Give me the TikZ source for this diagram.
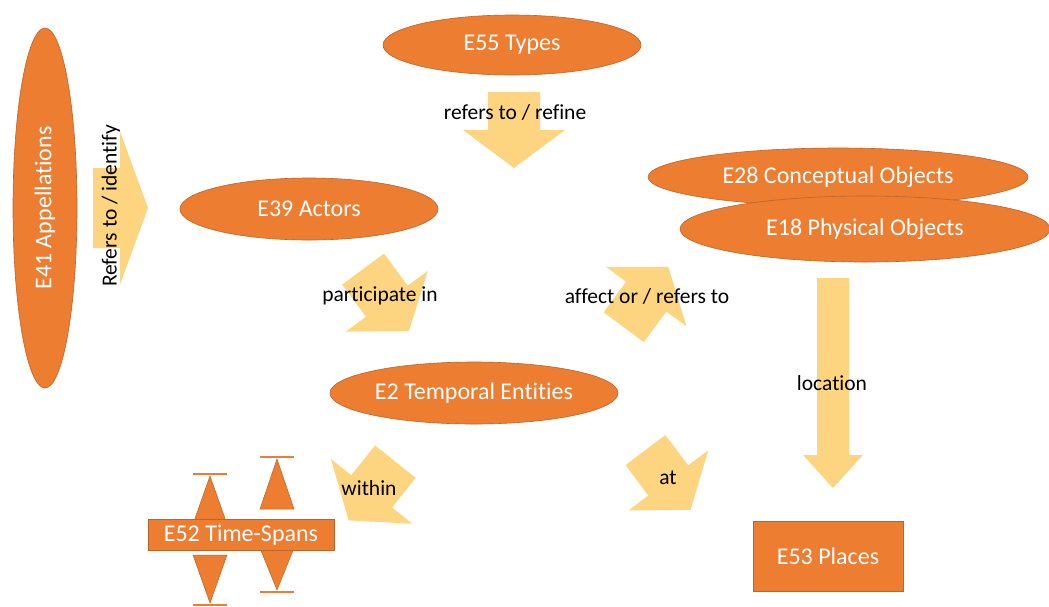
\documentclass[tikz,border=0pt]{standalone}
\usepackage{fontspec}
\setmainfont{Carlito}[Ligatures=NoCommon]
\usetikzlibrary{shapes.geometric}
\definecolor{eorange}{RGB}{237,125,49}
\definecolor{eborder}{RGB}{190,100,40}
\definecolor{arrfill}{RGB}{253,212,128}
\tikzset{
  ent/.style={ellipse, fill=eorange, draw=eborder, line width=0.6pt, text=white, inner sep=0pt,
    font=\fontsize{24}{28}\selectfont},
  entbox/.style={rectangle, fill=eorange, draw=eborder, line width=0.6pt, text=white, inner sep=0pt,
    font=\fontsize{24}{28}\selectfont},
  lbl/.style={text=black, inner sep=0pt, font=\fontsize{21.5}{26}\selectfont},
  tri/.style={fill=eorange, draw=eborder, line width=0.5pt},
  bar/.style={draw=eorange, line width=2pt},
  pics/barrow/.style n args={4}{code={
    \fill[arrfill] (-#1/2,-#2/2) -- (#1/2-#4,-#2/2) -- (#1/2-#4,-#3/2) -- (#1/2,0)
      -- (#1/2-#4,#3/2) -- (#1/2-#4,#2/2) -- (-#1/2,#2/2) -- cycle;
  }}
}
\begin{document}
\begin{tikzpicture}[x=1pt,y=-1pt]
\useasboundingbox[fill=white] (0,0) rectangle (1049,606);

% block arrows
\pic[rotate=0] at (120.5,208) {barrow={55}{80}{153}{28}};
\pic[rotate=-90] at (514,130) {barrow={76}{52}{102}{38}};
\pic[rotate=-90] at (833,383) {barrow={210}{32}{60}{33}};
\pic[rotate=-53.5] at (386,300) {barrow={77}{52}{102}{37}};
\pic[rotate=53.5] at (646,297) {barrow={75}{50}{100}{37}};
\pic[rotate=-128.5] at (372,491) {barrow={75}{52}{104}{37}};
\pic[rotate=-53] at (668,480) {barrow={75}{50}{100}{37}};

% time-span triangles and bars
\draw[tri] (210,476) -- (227,524) -- (193,524) -- cycle;
\draw[tri] (193,555) -- (227,555) -- (210,603) -- cycle;
\draw[tri] (277,459) -- (294,509) -- (260,509) -- cycle;
\draw[tri] (260,548) -- (294,548) -- (277,590) -- cycle;
\draw[bar] (193,474) -- (227,474);
\draw[bar] (193,605) -- (227,605);
\draw[bar] (260,457) -- (294,457);
\draw[bar] (260,592) -- (294,592);

% entities
\node[ent, rotate=90, minimum width=360, minimum height=64] (e41) at (45,208) {E41 Appellations};
\node[ent, minimum width=258, minimum height=60] (e55) at (512,45) {E55 Types};
\node[ent, minimum width=258, minimum height=62] (e39) at (309,209) {E39 Actors};
\node[ent, minimum width=380, minimum height=58] (e28) at (838,177) {E28 Conceptual Objects};
\node[ent, minimum width=370, minimum height=66] (e18) at (865,229) {E18 Physical Objects};
\node[ent, minimum width=288, minimum height=62] (e2) at (474,393) {E2 Temporal Entities};
\node[entbox, minimum width=186, minimum height=31] (e52) at (241,535) {E52 Time-Spans};
\node[entbox, minimum width=150, minimum height=70] (e53) at (828,556) {E53 Places};

% labels
\node[lbl, rotate=90] (lidentify) at (111,206) {Refers to / identify};
\node[lbl] (lrefine) at (515,112) {refers to / refine};
\node[lbl] (lpart) at (380,296) {participate in};
\node[lbl] (laffect) at (647,296) {affect or / refers to};
\node[lbl] (lwithin) at (369,488) {within};
\node[lbl] (lat) at (668,478) {at};
\node[lbl] (lloc) at (832,383) {location};
\end{tikzpicture}
\end{document}
